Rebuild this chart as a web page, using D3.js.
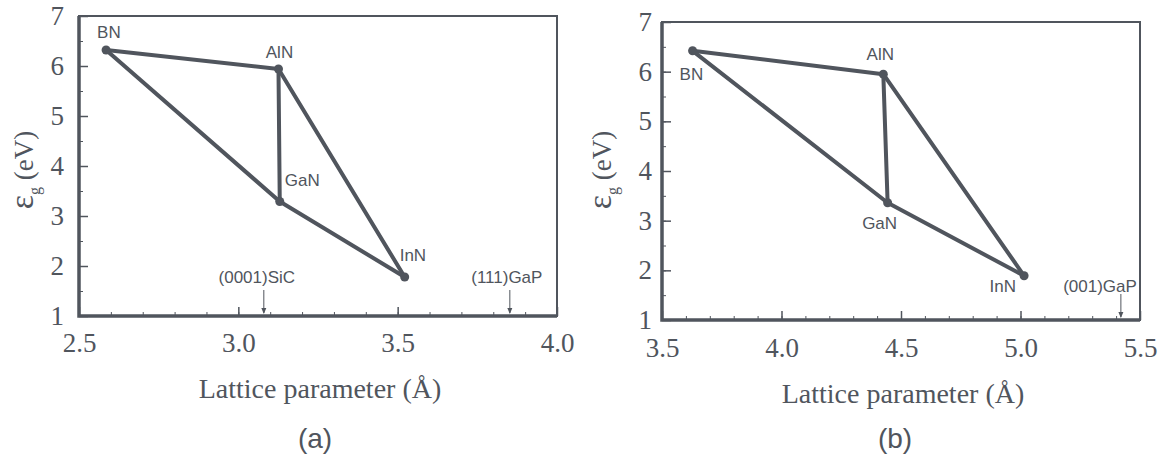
<!DOCTYPE html>
<html>
<head>
<meta charset="utf-8">
<script src="https://cdn.jsdelivr.net/npm/d3@7"></script>
<style>
  body { margin: 0; background: #fff; }
  svg { display: block; }
</style>
</head>
<body>
<div id="chart"></div>
<script>
const width = 1174;
const height = 459;

// Data
const compounds = ["BN", "AlN", "GaN", "InN"];
const latticeA = [2.585, 3.126, 3.13, 3.522];
const gapA = [6.32, 5.94, 3.29, 1.78];
const latticeB = [3.628, 4.426, 4.444, 5.015];
const gapB = [6.42, 5.95, 3.36, 1.89];
const edges = [["BN", "AlN"], ["AlN", "GaN"], ["AlN", "InN"], ["BN", "GaN"], ["GaN", "InN"]];
const substratesA = ["(0001)SiC", "(111)GaP"];
const substrateLatticeA = [3.08, 3.852];
const substratesB = ["(001)GaP"];
const substrateLatticeB = [5.42];
const xTicksA = [2.5, 3.0, 3.5, 4.0];
const xTicksB = [3.5, 4.0, 4.5, 5.0, 5.5];
const yTicks = [1, 2, 3, 4, 5, 6, 7];

const ink = "#50555d";
const serif = "Liberation Serif";
const sans = "Liberation Sans";

const svg = d3.select("#chart").append("svg")
    .attr("width", width)
    .attr("height", height)
    .attr("viewBox", [0, 0, width, height]);

function drawPanel(cfg) {
    const x = d3.scaleLinear().domain(cfg.xDomain).range([cfg.left, cfg.right]);
    const y = d3.scaleLinear().domain([1, 7]).range([cfg.bottom, cfg.top]);
    const g = svg.append("g");

    // minor ticks
    const xMinor = d3.range(cfg.xDomain[0], cfg.xDomain[1] + 1e-9, 0.1);
    g.append("g")
        .attr("transform", `translate(0,${cfg.bottom})`)
        .call(d3.axisBottom(x).tickValues(xMinor).tickSize(-4).tickFormat(""))
        .call(a => a.select(".domain").remove())
        .selectAll("line").attr("stroke", ink).attr("stroke-width", 1);
    g.append("g")
        .attr("transform", `translate(${cfg.left},0)`)
        .call(d3.axisLeft(y).tickValues(d3.range(1, 7.01, 0.5)).tickSize(-4).tickFormat(""))
        .call(a => a.select(".domain").remove())
        .selectAll("line").attr("stroke", ink).attr("stroke-width", 1);

    // major ticks and labels
    const xAxis = g.append("g")
        .attr("transform", `translate(0,${cfg.bottom})`)
        .call(d3.axisBottom(x).tickValues(cfg.xTicks).tickSize(-9).tickPadding(cfg.xPad)
            .tickFormat(d3.format(".1f")))
        .attr("font-family", serif).attr("font-size", 27);
    xAxis.select(".domain").remove();
    xAxis.selectAll("line").attr("stroke", ink).attr("stroke-width", 1.5);
    xAxis.selectAll("text").attr("fill", ink);

    const yAxis = g.append("g")
        .attr("transform", `translate(${cfg.left},0)`)
        .call(d3.axisLeft(y).tickValues(yTicks).tickSize(-9).tickPadding(cfg.yPad)
            .tickFormat(d3.format("d")))
        .attr("font-family", serif).attr("font-size", 27);
    yAxis.select(".domain").remove();
    yAxis.selectAll("line").attr("stroke", ink).attr("stroke-width", 1.5);
    yAxis.selectAll("text").attr("fill", ink);

    // frame
    g.append("rect")
        .attr("x", cfg.left).attr("y", cfg.top)
        .attr("width", cfg.right - cfg.left).attr("height", cfg.bottom - cfg.top)
        .attr("fill", "none").attr("stroke", ink).attr("stroke-width", 2);
    g.append("path")
        .attr("d", `M${cfg.left},${cfg.top}V${cfg.bottom}H${cfg.right}`)
        .attr("fill", "none").attr("stroke", ink).attr("stroke-width", 3.5);

    // substrate markers
    cfg.subs.forEach((name, i) => {
        const sx = x(cfg.subLattice[i]);
        g.append("line")
            .attr("x1", sx).attr("x2", sx)
            .attr("y1", cfg.bottom - 26).attr("y2", cfg.bottom - 3)
            .attr("stroke", ink).attr("stroke-width", 1);
        g.append("path")
            .attr("d", `M${sx - 2.5},${cfg.bottom - 8}L${sx + 2.5},${cfg.bottom - 8}L${sx},${cfg.bottom - 2}Z`)
            .attr("fill", ink);
        g.append("text")
            .attr("x", sx + cfg.subDx[i]).attr("y", cfg.bottom - cfg.subDy)
            .attr("text-anchor", cfg.subAnchor[i])
            .attr("fill", ink)
            .attr("font-family", sans).attr("font-size", 17)
            .text(name);
    });

    // triangle edges
    const pts = new Map(compounds.map((c, i) => [c, [x(cfg.lattice[i]), y(cfg.gap[i])]]));
    g.append("g").selectAll("line")
        .data(edges)
        .enter().append("line")
        .attr("x1", d => pts.get(d[0])[0]).attr("y1", d => pts.get(d[0])[1])
        .attr("x2", d => pts.get(d[1])[0]).attr("y2", d => pts.get(d[1])[1])
        .attr("stroke", ink).attr("stroke-width", 4)
        .attr("stroke-linecap", "round");

    g.append("g").selectAll("circle")
        .data(compounds)
        .enter().append("circle")
        .attr("cx", d => pts.get(d)[0]).attr("cy", d => pts.get(d)[1])
        .attr("r", 4.5).attr("fill", ink);

    g.append("g").selectAll("text")
        .data(compounds)
        .enter().append("text")
        .attr("x", (d, i) => pts.get(d)[0] + cfg.labels[i][0])
        .attr("y", (d, i) => pts.get(d)[1] + cfg.labels[i][1])
        .attr("text-anchor", (d, i) => cfg.labels[i][2])
        .attr("fill", ink)
        .attr("font-family", sans).attr("font-size", 17)
        .text(d => d);

    // axis titles
    g.append("text")
        .attr("x", (cfg.left + cfg.right) / 2 + 2).attr("y", cfg.xTitleY)
        .attr("text-anchor", "middle").attr("fill", ink)
        .attr("font-family", serif).attr("font-size", 28)
        .text("Lattice parameter (Å)");

    const yt = g.append("text")
        .attr("transform", `translate(${cfg.yTitleX},${cfg.yTitleY}) rotate(-90)`)
        .attr("text-anchor", "middle").attr("fill", ink)
        .attr("font-family", serif).attr("font-size", 27);
    yt.append("tspan").text("ε").attr("font-size", 34);
    yt.append("tspan").text("g").attr("dy", 7).attr("font-size", 16);
    yt.append("tspan").text(" (eV)").attr("dy", -7);

    g.append("text")
        .attr("x", cfg.capX).attr("y", 448)
        .attr("text-anchor", "middle").attr("fill", ink)
        .attr("font-family", sans).attr("font-size", 28)
        .text(cfg.caption);
}

drawPanel({
    left: 79, right: 557, top: 16, bottom: 316,
    xDomain: [2.5, 4.0], xTicks: xTicksA, xPad: 17, yPad: 15,
    lattice: latticeA, gap: gapA,
    labels: [[-9, -12, "start"], [1, -11, "middle"], [5, -16, "start"], [-5, -16, "start"]],
    subs: substratesA, subLattice: substrateLatticeA,
    subDx: [-7, -3], subAnchor: ["middle", "middle"], subDy: 33,
    xTitleY: 398, yTitleX: 33, yTitleY: 170,
    capX: 315, caption: "(a)"
});

drawPanel({
    left: 662, right: 1140, top: 22, bottom: 320,
    xDomain: [3.5, 5.5], xTicks: xTicksB, xPad: 18, yPad: 10,
    lattice: latticeB, gap: gapB,
    labels: [[-13, 29, "start"], [-3, -14, "middle"], [-8, 26, "middle"], [-8, 16, "end"]],
    subs: substratesB, subLattice: substrateLatticeB,
    subDx: [16], subAnchor: ["end"], subDy: 28,
    xTitleY: 403, yTitleX: 611, yTitleY: 170,
    capX: 895, caption: "(b)"
});
</script>
</body>
</html>
